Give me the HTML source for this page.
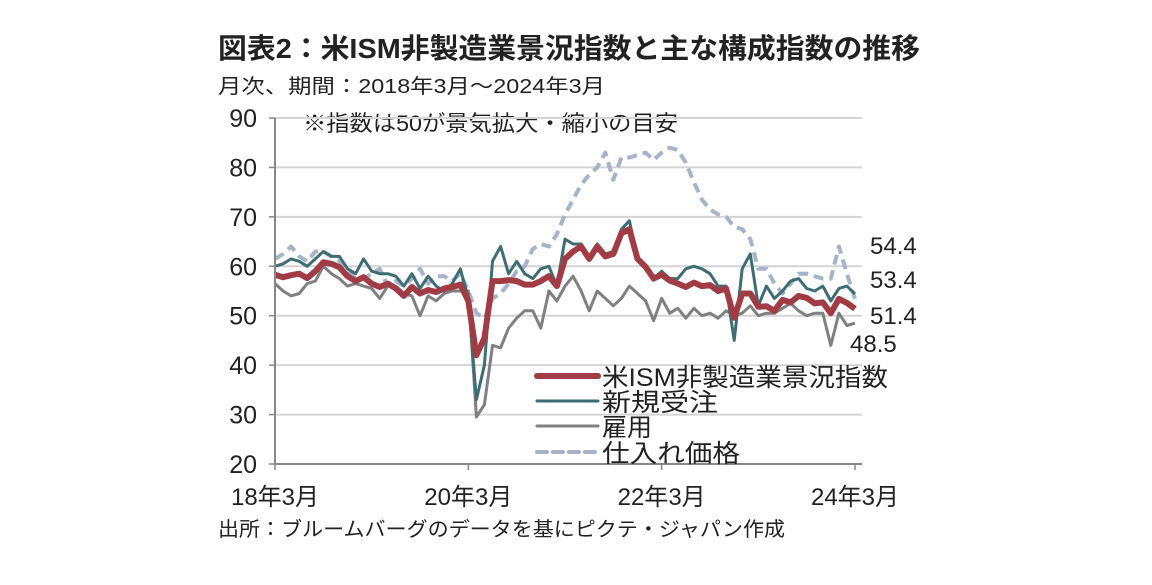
<!DOCTYPE html>
<html><head><meta charset="utf-8">
<style>
body{margin:0;background:#fff;}
svg text{font-family:"Liberation Sans","Noto Sans CJK JP",sans-serif;fill:#222;}
</style></head>
<body>
<svg id="c" width="1152" height="580" viewBox="0 0 1152 580" xmlns="http://www.w3.org/2000/svg">
<text x="218" y="58" font-size="28" font-weight="bold" textLength="702" lengthAdjust="spacingAndGlyphs">図表2：米ISM非製造業景況指数と主な構成指数の推移</text>
<text x="218" y="93" font-size="20" textLength="387" lengthAdjust="spacingAndGlyphs">月次、期間：2018年3月～2024年3月</text>
<text x="303" y="131" font-size="22" textLength="375" lengthAdjust="spacingAndGlyphs">※指数は50が景気拡大・縮小の目安</text>
<text x="218" y="536" font-size="20" textLength="567" lengthAdjust="spacingAndGlyphs">出所：ブルームバーグのデータを基にピクテ・ジャパン作成</text>
<g id="grid"></g><g id="series"></g><g id="axes"></g><g id="legend"></g>
</svg>
<script>
const yTicks=[20,30,40,50,60,70,80,90];
const xTickLabels=["18年3月","20年3月","22年3月","24年3月"];
const xTickIdx=[0,24,48,72];
const ism=[58.3,57.8,58.2,58.5,57.6,59.0,60.8,60.5,59.8,58.0,
57.0,57.8,56.5,55.8,56.5,55.5,54.0,55.8,54.5,55.2,54.8,55.5,
55.8,56.3,53.0,42.0,45.5,57.0,57.0,57.2,57.0,56.3,56.3,57.0,
58.0,56.0,61.5,63.0,64.0,61.5,64.0,62.0,62.5,66.7,67.5,61.5,
59.9,57.5,58.3,57.1,56.5,55.8,56.7,56.0,56.2,55.0,55.5,49.6,
54.5,54.5,51.8,51.9,51.0,53.2,52.7,54.0,53.6,52.5,52.7,50.5,
53.4,52.6,51.4];
const newOrders=[60.0,60.5,61.5,61.0,60.0,61.5,63.0,62.0,62.0,59.5,
58.5,61.5,59.0,58.5,58.5,58.0,56.0,58.5,55.5,58.0,56.0,55.0,
56.5,59.5,53.5,33.0,40.0,61.0,64.0,58.5,61.0,58.5,57.5,59.5,
60.0,56.0,65.5,64.5,64.5,62.0,64.5,62.5,63.0,67.5,69.2,61.5,
60.0,57.5,59.0,57.5,57.5,59.5,60.0,59.5,58.5,56.0,56.0,45.0,
59.5,62.5,52.0,56.0,53.5,55.0,57.0,57.5,55.5,55.0,56.0,53.0,
55.5,56.0,54.4];
const employment=[56.5,55.0,54.0,54.5,56.5,57.0,60.0,58.5,57.5,56.0,
56.5,56.0,55.5,53.5,56.0,56.0,54.5,54.0,50.0,54.0,53.0,54.5,
55.0,55.0,55.0,29.5,32.0,44.0,43.5,47.5,49.5,51.0,51.0,47.5,
55.0,53.0,56.0,58.0,55.0,51.0,55.0,53.5,52.0,53.5,56.0,54.5,
53.0,49.0,53.5,50.5,51.5,49.5,51.5,50.0,50.5,49.5,51.0,50.0,
50.5,52.0,50.0,50.5,50.5,51.5,52.5,51.0,50.0,50.5,50.5,44.0,
50.5,48.0,48.5];
const prices=[61.5,62.5,64.0,62.0,61.0,63.0,63.0,62.0,61.0,59.0,
57.5,57.5,58.5,59.5,56.0,57.0,56.0,57.5,59.5,56.5,58.0,58.0,
57.0,58.5,55.0,50.5,49.5,53.5,54.5,56.5,59.0,60.0,63.5,64.5,
64.0,66.5,70.5,73.5,76.5,78.5,80.0,83.0,77.5,82.0,82.0,82.5,
83.0,81.5,83.0,84.0,83.5,81.0,77.0,73.5,71.5,70.5,70.0,68.0,
67.5,65.5,59.5,59.5,56.5,54.5,56.5,58.5,58.5,58.0,57.5,57.5,
64.0,58.5,53.4];
const seriesNames=["米ISM非製造業景況指数","新規受注","雇用","仕入れ価格"];
const NS="http://www.w3.org/2000/svg";
const x0=275,x1=855,yTop=118,yBot=464,vMin=20,vMax=90;
const X=i=>x0+(x1-x0)*i/72;
const Y=v=>yBot-(v-vMin)/(vMax-vMin)*(yBot-yTop);
function mk(t,a,p){const e=document.createElementNS(NS,t);for(const k in a)e.setAttribute(k,a[k]);p.appendChild(e);return e;}
const grid=document.getElementById('grid'),axes=document.getElementById('axes'),ser=document.getElementById('series'),leg=document.getElementById('legend');
yTicks.forEach(v=>{
 if(v>vMin){const g=mk('line',{x1:x0,x2:862,y1:Y(v),y2:Y(v),stroke:'#d4d4d4','stroke-width':2},grid);
 
 }
 const t=mk('text',{x:257,y:Y(v)+9,'font-size':25,'text-anchor':'end'},axes);t.textContent=v;
 
 
 mk('line',{x1:x0-6,x2:x0,y1:Y(v),y2:Y(v),stroke:'#888','stroke-width':1.5},axes);
});
const ya=mk('line',{x1:x0,x2:x0,y1:yTop,y2:yBot,stroke:'#888','stroke-width':2},axes);


const xa=mk('line',{x1:x0,x2:862,y1:yBot,y2:yBot,stroke:'#888','stroke-width':2},axes);


xTickIdx.forEach((i,k)=>{
 mk('line',{x1:X(i),x2:X(i),y1:yBot,y2:yBot+6,stroke:'#888','stroke-width':1.5},axes);
 const t=mk('text',{x:X(i),y:505,'font-size':24,'text-anchor':'middle'},axes);t.textContent=xTickLabels[k];
 
 
});
function pts(a){return a.map((v,i)=>X(i).toFixed(1)+','+Y(v).toFixed(1)).join(' ');}
const styles=[
 {d:prices,c:'#a5b4c8',w:4,dash:'10,6',n:'prices-line'},
 {d:employment,c:'#808080',w:3,dash:'',n:'employment-line'},
 {d:newOrders,c:'#3e6e73',w:3,dash:'',n:'new-orders-line'},
 {d:ism,c:'#a23c44',w:6,dash:'',n:'ism-line'}];
styles.forEach(s=>{
 const p=mk('polyline',{points:pts(s.d),fill:'none',stroke:s.c,'stroke-width':s.w,'stroke-dasharray':s.dash,'stroke-linejoin':'round'},ser);
 
 
});
const endLabels=[[newOrders,870,254],[prices,870,288],[ism,870,324],[employment,850,352]];
endLabels.forEach(e=>{
 const t=mk('text',{x:e[1],y:e[2],'font-size':24},axes);t.textContent=e[0][72].toFixed(1);
 
 
});
const legSty=[['#a23c44',6,''],['#3e6e73',3,''],['#808080',3,''],['#a5b4c8',4,'10,6']];
const legY=[376,401,426,452];
const legW=[286,116,50,138];
seriesNames.forEach((n,k)=>{
 const g=mk('g',{},leg);
 
 
 mk('line',{x1:537,x2:598,y1:legY[k],y2:legY[k],stroke:legSty[k][0],'stroke-width':legSty[k][1],'stroke-dasharray':legSty[k][2],'stroke-linecap':'round'},g);
 const t=mk('text',{x:602,y:legY[k]+10,'font-size':25,textLength:legW[k],lengthAdjust:'spacingAndGlyphs'},g);t.textContent=n;
});
</script>
</body></html>
